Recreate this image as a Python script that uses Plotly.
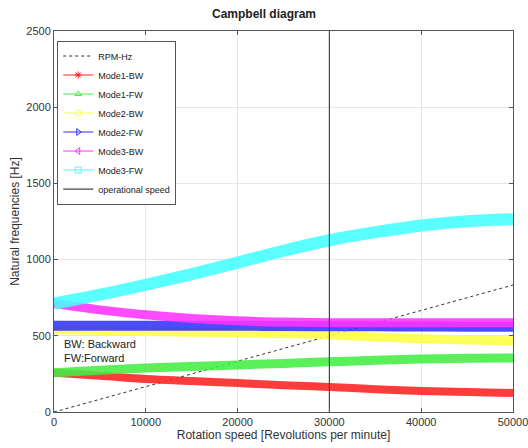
import plotly.graph_objects as go

rpm = [0, 5000, 10000, 15000, 20000, 25000, 30000, 35000, 40000, 45000, 50000]
mode1_bw = [258, 238, 217, 203, 190, 176, 164, 150, 138, 131, 125]
mode1_fw = [258, 274, 289, 299, 309, 319, 329, 340, 348, 352, 355]
mode2_bw = [540, 534, 528, 524, 520, 514, 506, 492, 480, 472, 467]
mode2_fw = [566, 566, 566, 566, 566, 564, 563, 562, 561, 560, 560]
mode3_bw = [712, 670, 638, 614, 598, 590, 586, 585, 585, 585, 585]
mode3_fw = [712, 770, 835, 905, 980, 1058, 1127, 1180, 1224, 1252, 1265]
rpm_line_x = [0, 50000]
rpm_line_hz = [0, 833.3]
op_speed = 30000
y_range = [0, 2500]
x_ticks = [0, 10000, 20000, 30000, 40000, 50000]
y_ticks = [0, 500, 1000, 1500, 2000, 2500]

series = [
    ("Mode1-BW", mode1_bw, "#ff2222", "asterisk-open", 8),
    ("Mode1-FW", mode1_fw, "#44ee44", "triangle-up-open", 9),
    ("Mode2-BW", mode2_bw, "#ffff44", "circle-open", 9),
    ("Mode2-FW", mode2_fw, "#3333ff", "triangle-right-open", 10),
    ("Mode3-BW", mode3_bw, "#ff33ff", "triangle-left-open", 9),
    ("Mode3-FW", mode3_fw, "#44ffff", "square-open", 12),
]

fig = go.Figure()
fig.add_trace(go.Scatter(x=rpm_line_x, y=rpm_line_hz, mode="lines", name="RPM-Hz",
                         line=dict(color="#333333", width=1, dash="dot")))
for name, vals, col, sym, w in series:
    fig.add_trace(go.Scatter(x=rpm, y=vals, mode="lines", showlegend=False,
                             line=dict(color=col, width=w, shape="spline"), opacity=0.88,
                             hoverinfo="skip"))
    fig.add_trace(go.Scatter(x=[None], y=[None], mode="lines+markers", name=name,
                             line=dict(color=col, width=1),
                             marker=dict(symbol=sym, size=6, color=col)))
fig.add_trace(go.Scatter(x=[op_speed, op_speed], y=y_range, mode="lines",
                         name="operational speed", line=dict(color="#444444", width=1.2)))

fig.add_annotation(x=900, y=401, xref="x", yref="y", text="BW: Backward<br>FW:Forward",
                   showarrow=False, xanchor="left", yanchor="middle", align="left",
                   font=dict(size=11, color="#222222"))

axis_common = dict(showgrid=True, gridcolor="#e6e6e6", gridwidth=1, zeroline=False,
                   showline=True, linecolor="#555555", linewidth=1, mirror="ticks",
                   ticks="inside", ticklen=4, tickcolor="#555555", automargin=False,
                   ticklabeloverflow="allow",
                   tickfont=dict(size=11, color="#333333"))
fig.update_xaxes(range=[0, 50000], tickvals=x_ticks, ticktext=[str(v) for v in x_ticks],
                 title=dict(text="Rotation speed [Revolutions per minute]", font=dict(size=12, color="#333333"), standoff=2),
                 **axis_common)
fig.update_yaxes(range=y_range, tickvals=y_ticks, ticktext=[str(v) for v in y_ticks],
                 title=dict(text="Natural frequencies [Hz]", font=dict(size=12, color="#333333"), standoff=4),
                 **axis_common)

fig.update_layout(
    width=528, height=448,
    margin=dict(l=54, r=15, t=31, b=36),
    paper_bgcolor="white", plot_bgcolor="white",
    font=dict(family="Liberation Sans, Arial, sans-serif"),
    title=dict(text="<b>Campbell diagram</b>", x=0.5, xanchor="center", y=0.97, yanchor="middle",
               font=dict(size=12, color="#222222")),
    legend=dict(x=0.007, y=0.975, xanchor="left", yanchor="top", bgcolor="white",
                bordercolor="#555555", borderwidth=1, font=dict(size=9, color="#222222"),
                tracegroupgap=0, itemwidth=30),
    showlegend=True,
)

fig.write_html("out.html")
